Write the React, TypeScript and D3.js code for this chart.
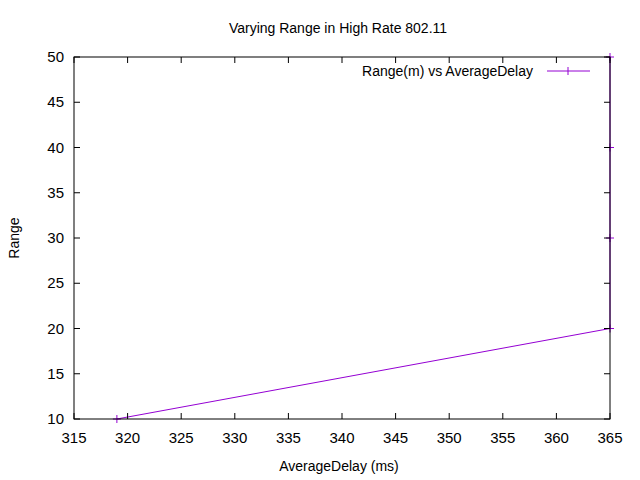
import React from "react";
import * as d3 from "d3";

const delays = [319, 365, 365, 365, 365];
const ranges = [10, 20, 30, 40, 50];
const xTicks = [315, 320, 325, 330, 335, 340, 345, 350, 355, 360, 365];
const yTicks = [10, 15, 20, 25, 30, 35, 40, 45, 50];

const App: React.FC = () => {
  const w = 640, h = 480;
  const m = { left: 74, right: 30, top: 57, bottom: 61 };
  const x = d3.scaleLinear().domain([315, 365]).range([m.left, w - m.right]);
  const y = d3.scaleLinear().domain([10, 50]).range([h - m.bottom, m.top]);
  const pts = delays.map((d, i) => [d, ranges[i]] as [number, number]);
  const line = d3.line<[number, number]>().x(d => x(d[0])).y(d => y(d[1]));
  const color = "#9400d3";
  const font = "Liberation Sans, Arial, sans-serif";
  return (
    <svg width={w} height={h} style={{ position: "absolute", left: 0, top: 0, background: "#fff" }} fontFamily={font}>
      <text x={338} y={33} textAnchor="middle" fontSize={14}>Varying Range in High Rate 802.11</text>
      <path d={line(pts) ?? ""} fill="none" stroke={color} strokeWidth={1} />
      {pts.map((p, i) => (
        <g key={i} stroke={color}>
          <line x1={x(p[0]) - 4} x2={x(p[0]) + 4} y1={y(p[1])} y2={y(p[1])} />
          <line x1={x(p[0])} x2={x(p[0])} y1={y(p[1]) - 4} y2={y(p[1]) + 4} />
        </g>
      ))}
      {xTicks.map(t => (
        <g key={"x" + t}>
          <line x1={x(t)} x2={x(t)} y1={y(10)} y2={y(10) - 6} stroke="#000" />
          <line x1={x(t)} x2={x(t)} y1={y(50)} y2={y(50) + 6} stroke="#000" />
          <text x={x(t)} y={y(10) + 24} textAnchor="middle" fontSize={15}>{t}</text>
        </g>
      ))}
      {yTicks.map(t => (
        <g key={"y" + t}>
          <line x1={x(315)} x2={x(315) + 6} y1={y(t)} y2={y(t)} stroke="#000" />
          <line x1={x(365)} x2={x(365) - 6} y1={y(t)} y2={y(t)} stroke="#000" />
          <text x={x(315) - 10} y={y(t) + 5} textAnchor="end" fontSize={15}>{t}</text>
        </g>
      ))}
      <rect x={m.left} y={m.top} width={w - m.left - m.right} height={h - m.top - m.bottom} fill="none" stroke="#000" />
      <text x={339} y={471} textAnchor="middle" fontSize={14}>AverageDelay (ms)</text>
      <text transform={`translate(19,${(m.top + h - m.bottom) / 2}) rotate(-90)`} textAnchor="middle" fontSize={14}>Range</text>
      <text x={533} y={76} textAnchor="end" fontSize={14}>Range(m) vs AverageDelay</text>
      <g stroke={color}>
        <line x1={547} x2={590} y1={71} y2={71} />
        <line x1={568} x2={568} y1={67} y2={75} />
      </g>
    </svg>
  );
};

export default App;
